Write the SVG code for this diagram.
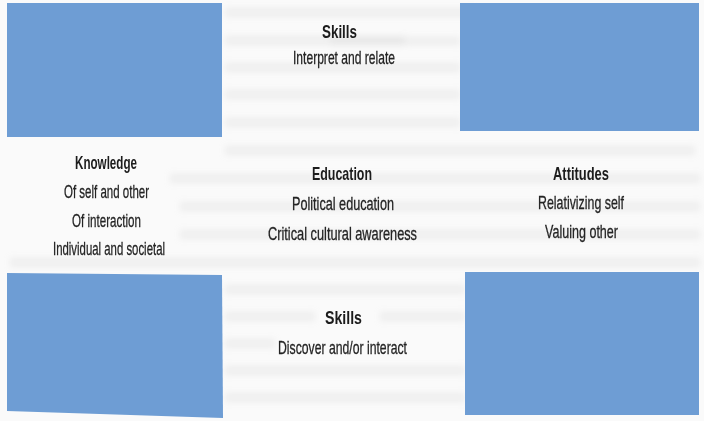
<svg xmlns="http://www.w3.org/2000/svg" width="704" height="421" viewBox="0 0 704 421">
  <style>
    .panel { fill: #6e9dd4; }
    .title { font-family: "Liberation Sans", Arial, sans-serif; font-size: 19px; font-weight: bold; fill: #1c1c1c; text-anchor: middle; }
    .item  { font-family: "Liberation Sans", Arial, sans-serif; font-size: 19px; fill: #232323; stroke: #232323; stroke-width: 0.3; text-anchor: middle; }
    .ghost { fill: #c8c8c8; opacity: 0.22; }
  </style>
  <defs>
    <filter id="soft" x="-5%" y="-60%" width="110%" height="220%">
      <feGaussianBlur stdDeviation="3"/>
    </filter>
  </defs>

  <!-- paper -->
  <rect width="704" height="421" fill="#fafafa"/>

  <!-- faint show-through from the reverse side of the page -->
  <g filter="url(#soft)">
    <rect class="ghost" x="225" y="8" width="250" height="9"/>
    <rect class="ghost" x="225" y="36" width="180" height="9"/>
    <rect class="ghost" x="330" y="37" width="130" height="8"/>
    <rect class="ghost" x="225" y="63" width="235" height="9"/>
    <rect class="ghost" x="225" y="90" width="235" height="9"/>
    <rect class="ghost" x="225" y="118" width="235" height="9"/>
    <rect class="ghost" x="225" y="146" width="470" height="9"/>
    <rect class="ghost" x="170" y="174" width="530" height="9"/>
    <rect class="ghost" x="180" y="202" width="520" height="9"/>
    <rect class="ghost" x="180" y="230" width="520" height="9"/>
    <rect class="ghost" x="10" y="258" width="690" height="9"/>
    <rect class="ghost" x="225" y="285" width="240" height="9"/>
    <rect class="ghost" x="225" y="312" width="90" height="9"/>
    <rect class="ghost" x="380" y="312" width="85" height="9"/>
    <rect class="ghost" x="225" y="339" width="50" height="9"/>
    <rect class="ghost" x="225" y="366" width="240" height="9"/>
    <rect class="ghost" x="225" y="393" width="240" height="9"/>
  </g>

  <!-- corner panels -->
  <g id="panel-top-left"><rect class="panel" x="7" y="3" width="215" height="134"/></g>
  <g id="panel-top-right"><rect class="panel" x="460" y="3" width="239" height="128"/></g>
  <g id="panel-bottom-left"><polygon class="panel" points="7,273 222,275 223,418 7,411"/></g>
  <g id="panel-bottom-right"><rect class="panel" x="465" y="272" width="234" height="143"/></g>

  <!-- connectors: none drawn -->
  <g id="connectors"/>

  <g id="skills-interpret">
    <text class="title" x="339.5" y="38" textLength="35" lengthAdjust="spacingAndGlyphs">Skills</text>
    <text class="item" x="344" y="64" textLength="102" lengthAdjust="spacingAndGlyphs">Interpret and relate</text>
  </g>

  <g id="knowledge">
    <text class="title" x="106" y="169" textLength="62" lengthAdjust="spacingAndGlyphs">Knowledge</text>
    <text class="item" x="106.5" y="198" textLength="85" lengthAdjust="spacingAndGlyphs">Of self and other</text>
    <text class="item" x="106.5" y="227" textLength="69" lengthAdjust="spacingAndGlyphs">Of interaction</text>
    <text class="item" x="109" y="255" textLength="112" lengthAdjust="spacingAndGlyphs">Individual and societal</text>
  </g>

  <g id="education">
    <text class="title" x="342" y="180" textLength="60" lengthAdjust="spacingAndGlyphs">Education</text>
    <text class="item" x="343" y="210" textLength="102" lengthAdjust="spacingAndGlyphs">Political education</text>
    <text class="item" x="342.5" y="240" textLength="149" lengthAdjust="spacingAndGlyphs">Critical cultural awareness</text>
  </g>

  <g id="attitudes">
    <text class="title" x="581" y="180" textLength="56" lengthAdjust="spacingAndGlyphs">Attitudes</text>
    <text class="item" x="581" y="209" textLength="86" lengthAdjust="spacingAndGlyphs">Relativizing self</text>
    <text class="item" x="581.5" y="238" textLength="73" lengthAdjust="spacingAndGlyphs">Valuing other</text>
  </g>

  <g id="skills-discover">
    <text class="title" x="343.5" y="324" textLength="37" lengthAdjust="spacingAndGlyphs">Skills</text>
    <text class="item" x="342.5" y="354" textLength="129" lengthAdjust="spacingAndGlyphs">Discover and/or interact</text>
  </g>
</svg>
